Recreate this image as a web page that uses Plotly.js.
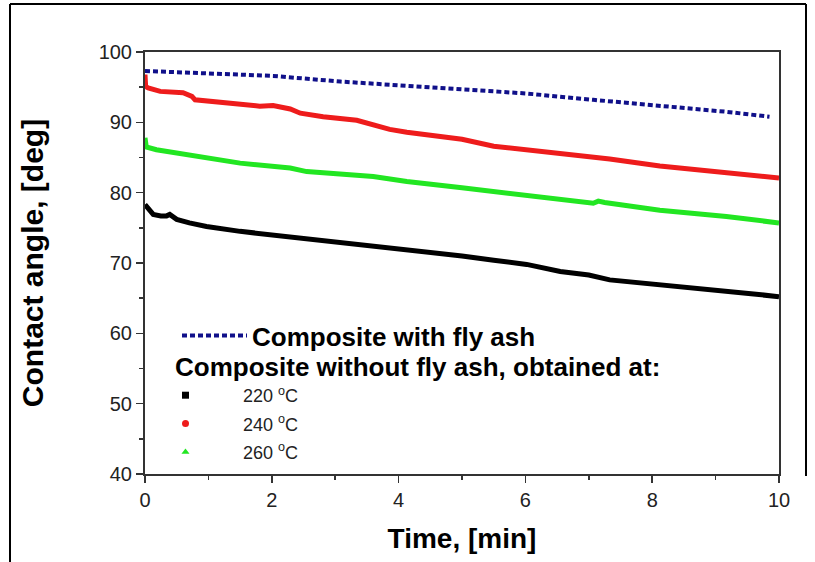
<!DOCTYPE html>
<html>
<head>
<meta charset="utf-8">
<script src="https://cdn.plot.ly/plotly-3.0.1.min.js"></script>
<style>html,body{margin:0;padding:0;background:#fff;}#chart{width:815px;height:562px;}</style>
</head>
<body>
<div id="chart"></div>
<script>
// ---- data ----
var t220 = [0, 0.05, 0.13, 0.25, 0.34, 0.39, 0.5, 0.7, 0.97, 1.5, 2.0, 2.5, 3.08, 3.5, 3.86, 4.39, 5.0, 5.5, 6.02, 6.55, 7.0, 7.33, 7.7, 8.12, 8.6, 9.17, 9.6, 10];
var v220 = [78.3, 77.8, 76.9, 76.7, 76.7, 76.9, 76.2, 75.7, 75.2, 74.5, 74.0, 73.6, 72.9, 72.5, 72.1, 71.6, 71.0, 70.4, 69.8, 68.8, 68.3, 67.6, 67.3, 66.8, 66.5, 66.0, 65.6, 65.2];

var t240 = [0, 0.01, 0.05, 0.24, 0.6, 0.74, 0.79, 1.23, 1.81, 2.02, 2.29, 2.45, 2.81, 3.34, 3.6, 3.86, 4.13, 4.65, 5.0, 5.5, 6.0, 6.55, 7.33, 8.12, 8.6, 9.17, 10];
var v240 = [96.8, 95.1, 94.9, 94.4, 94.2, 93.7, 93.2, 92.8, 92.3, 92.4, 91.9, 91.3, 90.8, 90.3, 89.7, 89.0, 88.6, 88.0, 87.6, 86.6, 86.1, 85.6, 84.8, 83.8, 83.4, 82.8, 82.1];

var t260 = [0, 0.02, 0.18, 0.45, 0.97, 1.5, 2.29, 2.55, 3.6, 4.13, 5.0, 6.02, 7.07, 7.15, 7.25, 8.12, 9.17, 10];
var v260 = [87.8, 86.5, 86.1, 85.7, 84.9, 84.2, 83.5, 83.0, 82.3, 81.6, 80.7, 79.6, 78.5, 78.8, 78.6, 77.5, 76.6, 75.7];

var tFly = [0, 0.97, 2.02, 3.08, 4.13, 5.0, 6.02, 7.07, 8.12, 9.17, 9.85];
var vFly = [97.3, 96.9, 96.6, 95.8, 95.2, 94.7, 94.1, 93.2, 92.4, 91.5, 90.8];

var xTicks = [0, 2, 4, 6, 8, 10];
var yTicks = [40, 50, 60, 70, 80, 90, 100];

var nameFly = 'Composite with fly ash';
var headerNoFly = 'Composite without fly ash, obtained at:';
var names = ['220 <sup>o</sup>C', '240 <sup>o</sup>C', '260 <sup>o</sup>C'];
var colors = ['#000000', '#ee1c1c', '#22e622'];
var symbols = ['square', 'circle', 'triangle-up'];

var FONT = 'Arial, "Liberation Sans", sans-serif';

var traces = [
  {x: t220, y: v220, mode: 'lines', line: {color: colors[0], width: 5}, showlegend: false},
  {x: t240, y: v240, mode: 'lines', line: {color: colors[1], width: 5}, showlegend: false},
  {x: t260, y: v260, mode: 'lines', line: {color: colors[2], width: 5}, showlegend: false},
  {x: tFly, y: vFly, mode: 'lines', name: nameFly, legend: 'legend',
   line: {color: '#10108a', width: 4, dash: '5px,3px'}}
];
for (var i = 0; i < 3; i++) {
  traces.push({x: [null], y: [null], mode: 'markers', name: names[i], legend: 'legend2',
    legendgroup: 'g' + i, marker: {symbol: symbols[i], size: 7, color: colors[i]}});
}

var L = 145, R = 779, T = 52, B = 474;
function px(x) { return (x - L) / (R - L); }
function py(y) { return (B - y) / (B - T); }

var layout = {
  width: 815, height: 562,
  margin: {l: L, r: 815 - R, t: T, b: 562 - B},
  paper_bgcolor: '#ffffff', plot_bgcolor: '#ffffff',
  font: {family: FONT, color: '#222'},
  xaxis: {
    range: [0, 10], tickvals: xTicks, ticks: 'outside', ticklen: 7, tickwidth: 1.5, tickcolor: '#333',
    showline: true, linecolor: '#333', linewidth: 2, mirror: true, showgrid: false, zeroline: false,
    tickfont: {size: 20, family: FONT, color: '#222'},
    minor: {dtick: 1, ticks: 'outside', ticklen: 4, tickwidth: 1.5, tickcolor: '#333', showgrid: false},
    title: {text: 'Time, [min]', font: {size: 28, family: FONT, color: '#000', weight: 'bold'}, standoff: 18}
  },
  yaxis: {
    range: [40, 100], tickvals: yTicks, ticks: 'outside', ticklen: 7, tickwidth: 1.5, tickcolor: '#333',
    showline: true, linecolor: '#333', linewidth: 2, mirror: true, showgrid: false, zeroline: false,
    tickfont: {size: 20, family: FONT, color: '#222'},
    minor: {dtick: 5, ticks: 'outside', ticklen: 4, tickwidth: 1.5, tickcolor: '#333', showgrid: false},
    title: {text: 'Contact angle, [deg]', font: {size: 30, family: FONT, color: '#000', weight: 'bold'}, standoff: 46}
  },
  legend: {
    x: px(177), y: py(312), xanchor: 'left', yanchor: 'top', bgcolor: 'rgba(0,0,0,0)',
    font: {size: 26, family: FONT, color: '#000', weight: 'bold'}, itemwidth: 65
  },
  legend2: {
    x: px(128), y: py(377), xanchor: 'left', yanchor: 'top', bgcolor: 'rgba(0,0,0,0)',
    font: {size: 18, family: FONT, color: '#222'}, itemwidth: 105, tracegroupgap: 2
  },
  annotations: [
    {text: headerNoFly, xref: 'paper', yref: 'paper', x: px(173), y: py(367), xanchor: 'left', yanchor: 'middle',
     showarrow: false, font: {size: 26, family: FONT, color: '#000', weight: 'bold'}}
  ],
  shapes: [
    {type: 'line', xref: 'paper', yref: 'paper', x0: px(10), x1: px(10), y0: py(4), y1: py(562), line: {color: '#000', width: 2}},
    {type: 'line', xref: 'paper', yref: 'paper', x0: px(10), x1: px(806), y0: py(4), y1: py(4), line: {color: '#000', width: 2}},
    {type: 'line', xref: 'paper', yref: 'paper', x0: px(806), x1: px(806), y0: py(4), y1: py(476), line: {color: '#000', width: 2}}
  ]
};

Plotly.newPlot('chart', traces, layout, {staticPlot: true, displayModeBar: false});
</script>
</body>
</html>
